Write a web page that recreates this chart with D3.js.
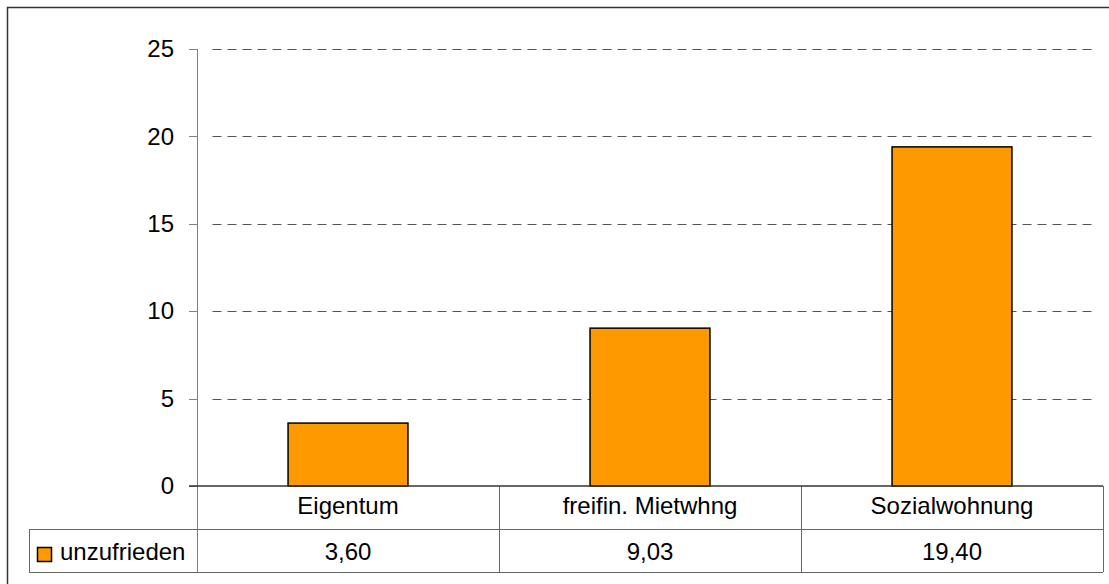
<!DOCTYPE html>
<html>
<head>
<meta charset="utf-8">
<script src="https://cdn.jsdelivr.net/npm/d3@7"></script>
<style>
  html, body { margin: 0; padding: 0; background: #fff; }
  svg { display: block; font-family: "Liberation Sans", Arial, sans-serif; }
</style>
</head>
<body>
<svg id="chart" width="1109" height="584"></svg>
<script>
const categories = ["Eigentum", "freifin. Mietwhng", "Sozialwohnung"];
const seriesName = "unzufrieden";
const values = [3.60, 9.03, 19.40];
const yTicks = [0, 5, 10, 15, 20, 25];

(function () {
const svg = d3.select("#chart");
const W = 1109, H = 584;
const plotLeft = 197, plotRight = 1103, plotTop = 49, zeroY = 486;
const row1 = 529.5, row2 = 572, legendLeft = 29;
const fontSize = 24;
const color = "#FF9900";

// outer border
svg.append("rect").attr("x", 7.5).attr("y", 7.5).attr("width", W + 10).attr("height", H + 10)
  .attr("fill", "none").attr("stroke", "#333").attr("stroke-width", 1.5);

const x = d3.scaleBand().domain(categories).range([plotLeft, plotRight]).paddingInner(0).paddingOuter(0);
const y = d3.scaleLinear().domain([0, 25]).range([zeroY, plotTop]);

// gridlines
svg.append("g").selectAll("line").data(yTicks.filter(t => t > 0)).join("line")
  .attr("x1", plotLeft + 15.5).attr("x2", plotRight - 6)
  .attr("y1", d => Math.round(y(d)) + 0.5).attr("y2", d => Math.round(y(d)) + 0.5)
  .attr("stroke", "#555").attr("stroke-dasharray", "9,6");

// y axis
const yAxis = svg.append("g").attr("transform", `translate(${plotLeft},0)`)
  .call(d3.axisLeft(y).tickValues(yTicks).tickSize(8).tickPadding(15).tickFormat(d3.format("d")));
yAxis.select(".domain").attr("stroke", "#808080").attr("d", `M-0,${plotTop}V${row2}`).attr("shape-rendering", "crispEdges");
yAxis.selectAll(".tick line").attr("stroke", "#808080").attr("shape-rendering", "crispEdges");
yAxis.selectAll(".tick text").attr("font-size", fontSize).attr("fill", "#000")
  .attr("font-family", "Liberation Sans, Arial, sans-serif");

// bars
const barW = x.bandwidth() * 0.397;
svg.append("g").selectAll("rect").data(values).join("rect")
  .attr("x", (d, i) => x(categories[i]) + (x.bandwidth() - barW) / 2)
  .attr("y", d => y(d))
  .attr("width", barW)
  .attr("height", d => y(0) - y(d))
  .attr("fill", color).attr("stroke", "#000").attr("stroke-width", 1.5);

// table lines
const tl = svg.append("g").attr("stroke", "#666").attr("shape-rendering", "crispEdges");
tl.append("line").attr("x1", legendLeft).attr("x2", plotRight).attr("y1", row1).attr("y2", row1);
tl.append("line").attr("x1", legendLeft).attr("x2", plotRight).attr("y1", row2).attr("y2", row2);
tl.append("line").attr("x1", legendLeft).attr("x2", legendLeft).attr("y1", row1).attr("y2", row2);
categories.forEach((c, i) => {
  if (i > 0) tl.append("line").attr("x1", x(c)).attr("x2", x(c)).attr("y1", zeroY).attr("y2", row2);
});
tl.append("line").attr("x1", plotRight).attr("x2", plotRight).attr("y1", zeroY).attr("y2", row2);

// zero line
svg.append("line").attr("x1", plotLeft - 8).attr("x2", plotRight).attr("y1", y(0)).attr("y2", y(0))
  .attr("stroke", "#333").attr("stroke-width", 1.5);

// category labels
const fmt = v => d3.format(".2f")(v).replace(".", ",");
svg.append("g").selectAll("text").data(categories).join("text")
  .attr("x", d => x(d) + x.bandwidth() / 2).attr("y", 514)
  .attr("text-anchor", "middle").attr("font-size", fontSize).text(d => d);

// values
svg.append("g").selectAll("text").data(values).join("text")
  .attr("x", (d, i) => x(categories[i]) + x.bandwidth() / 2).attr("y", 560)
  .attr("text-anchor", "middle").attr("font-size", fontSize).text(d => fmt(d));

// legend
svg.append("rect").attr("x", 37.5).attr("y", 547.5).attr("width", 14).attr("height", 14)
  .attr("fill", color).attr("stroke", "#000").attr("stroke-width", 1.5);
svg.append("text").attr("x", 60).attr("y", 560).attr("font-size", fontSize).text(seriesName);
})();
</script>
</body>
</html>
